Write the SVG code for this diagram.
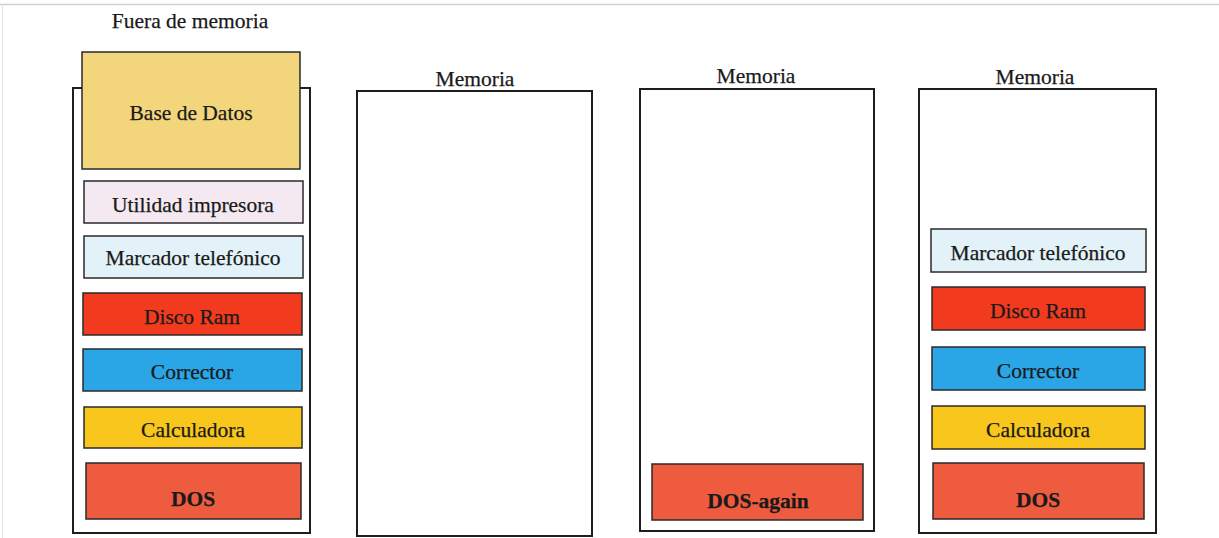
<svg xmlns="http://www.w3.org/2000/svg" width="1219" height="538" viewBox="0 0 1219 538">
<style>
.bg{fill:#ffffff}
.mem{fill:#ffffff;stroke:#1e1e1e;stroke-width:2}
.blk{stroke:#2a2a2a;stroke-width:1.5}
.t{font-family:"Liberation Serif","Times New Roman",serif;font-size:21.5px;fill:#1a1a1a;text-anchor:middle;stroke:#1a1a1a;stroke-width:0.25}
.b{font-weight:bold}
.db{fill:#f3d67c}
.ut{fill:#f4e9f1}
.mt{fill:#e3f2f8}
.dr{fill:#f23a1e}
.co{fill:#2aa5e5}
.ca{fill:#f8c61c}
.dos{fill:#ee5b3f}
</style>
<rect class="bg" x="0" y="0" width="1219" height="538"/>
<line x1="0" y1="4.5" x2="1219" y2="4.5" stroke="#d0d0d0" stroke-width="1.5"/>
<line x1="2.5" y1="4" x2="2.5" y2="538" stroke="#e4e4e4" stroke-width="1"/>

<g id="col1">
  <text class="t" x="190" y="28">Fuera de memoria</text>
  <rect class="mem" x="73" y="88" width="237" height="445"/>
  <g id="n-basedatos"><rect class="blk db" x="82" y="52" width="218" height="117"/><text class="t" x="191" y="120">Base de Datos</text></g>
  <g id="n-utilidad"><rect class="blk ut" x="84" y="181" width="219" height="42"/><text class="t" x="193" y="212">Utilidad impresora</text></g>
  <g id="n-marcador1"><rect class="blk mt" x="84" y="236" width="219" height="42"/><text class="t" x="193" y="265">Marcador telefónico</text></g>
  <g id="n-disco1"><rect class="blk dr" x="83" y="293" width="219" height="42"/><text class="t" x="192" y="324">Disco Ram</text></g>
  <g id="n-corrector1"><rect class="blk co" x="83" y="349" width="219" height="42"/><text class="t" x="192" y="379">Corrector</text></g>
  <g id="n-calc1"><rect class="blk ca" x="84" y="407" width="218" height="41"/><text class="t" x="193" y="437">Calculadora</text></g>
  <g id="n-dos1"><rect class="blk dos" x="86" y="463" width="215" height="56"/><text class="t b" x="193" y="506">DOS</text></g>
</g>

<g id="col2">
  <text class="t" x="475" y="86">Memoria</text>
  <rect class="mem" x="357" y="91" width="235" height="445"/>
</g>

<g id="col3">
  <text class="t" x="756" y="83">Memoria</text>
  <rect class="mem" x="640" y="89" width="234" height="442"/>
  <g id="n-dosagain"><rect class="blk dos" x="652" y="464" width="211" height="56"/><text class="t b" x="758" y="508">DOS-again</text></g>
</g>

<g id="col4">
  <text class="t" x="1035" y="84">Memoria</text>
  <rect class="mem" x="919" y="89" width="237" height="444"/>
  <g id="n-marcador4"><rect class="blk mt" x="931" y="229" width="215" height="43"/><text class="t" x="1038" y="260">Marcador telefónico</text></g>
  <g id="n-disco4"><rect class="blk dr" x="932" y="287" width="213" height="43"/><text class="t" x="1038" y="318">Disco Ram</text></g>
  <g id="n-corrector4"><rect class="blk co" x="932" y="347" width="213" height="43"/><text class="t" x="1038" y="378">Corrector</text></g>
  <g id="n-calc4"><rect class="blk ca" x="932" y="406" width="213" height="43"/><text class="t" x="1038" y="437">Calculadora</text></g>
  <g id="n-dos4"><rect class="blk dos" x="933" y="463" width="211" height="56"/><text class="t b" x="1038" y="507">DOS</text></g>
</g>

<g id="connectors"></g>
</svg>
